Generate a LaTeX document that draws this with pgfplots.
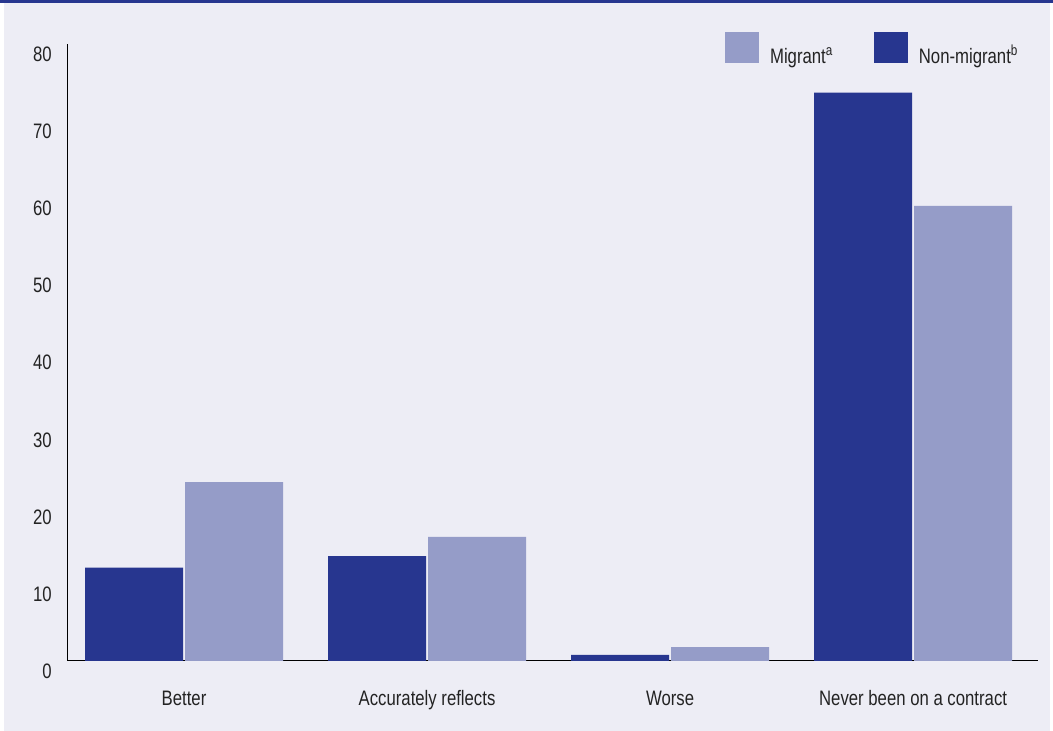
\documentclass[border=0pt]{standalone}
\usepackage{pgfplots}
\pgfplotsset{compat=1.18}
\usepackage{fontspec}
\setmainfont{Liberation Sans}[FakeStretch=0.8]
\definecolor{dark}{RGB}{39,54,143}
\definecolor{light}{RGB}{149,156,200}
\definecolor{bg}{RGB}{237,237,245}
\definecolor{txt}{RGB}{35,35,35}
\begin{document}
\begin{tikzpicture}
\fill[bg] (4bp,0) rectangle (1050bp,731bp);
\fill[dark] (0,728bp) rectangle (1053bp,731bp);
\path[use as bounding box] (0,0) rectangle (1053bp,731bp);
\begin{axis}[
  at={(67bp,70bp)}, anchor=south west,
  scale only axis, width=971bp, height=617bp,
  xmin=-0.4815, xmax=3.514, ymin=0, ymax=80,
  axis x line=bottom, axis y line=left,
  axis line style={-, black, line width=1bp},
  ytick={0,10,...,80}, xtick={0,1,2,3},
  xticklabels={Better,Accurately reflects,Worse,Never been on a contract},
  major tick length=0pt,
  /pgf/number format/assume math mode=true,
  tick label style={font=\fontsize{21}{25}\selectfont, text=txt, inner sep=0pt},
  yticklabel style={anchor=base east, xshift=-15bp, yshift=-17.5bp},
  xticklabel style={anchor=base, yshift=-44bp},
  ybar=2bp, bar width=98bp,
  legend columns=2,
  legend style={at={(axis description cs:0.6777,1.0194)}, anchor=north west,
    draw=none, fill=none, inner sep=0pt, outer sep=0pt,
    font=\fontsize{21}{25}\selectfont, text=txt,
    nodes={inner sep=0pt, anchor=base west},
    cells={anchor=base west},
    /tikz/every odd column/.append style={column sep=11bp},
    /tikz/every even column/.append style={column sep=41bp}},
  legend image code/.code={\fill[#1] (0bp,0bp) rectangle (34bp,31bp);},
]
\addplot[fill=light, draw=none, bar shift=50bp] coordinates {(0,23.2) (1,16.1) (2,1.8) (3,59.0)};
\addlegendentry{Migrant\textsuperscript{a}}
\addplot[fill=dark, draw=none, bar shift=-50bp] coordinates {(0,12.1) (1,13.6) (2,0.8) (3,73.7)};
\addlegendentry{Non-migrant\textsuperscript{b}}
\end{axis}
\end{tikzpicture}
\end{document}
